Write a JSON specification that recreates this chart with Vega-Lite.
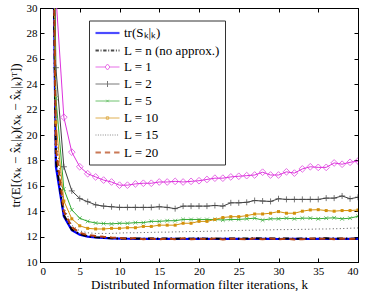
{
  "$schema": "https://vega.github.io/schema/vega-lite/v6.json",
  "width": 318,
  "height": 254,
  "autosize": {"type": "none"},
  "padding": {"left": 40, "top": 8, "right": 10, "bottom": 29},
  "config": {
    "font": "Liberation Serif",
    "view": {"stroke": "black", "strokeWidth": 1},
    "axis": {
      "domainColor": "black", "tickColor": "black", "labelColor": "black", "titleColor": "black",
      "labelFontSize": 11, "titleFontSize": 13, "titleFontWeight": "normal",
      "grid": false, "domainWidth": 1, "tickWidth": 1
    }
  },
  "data": {"values": [
    {"k":1,"S":70,"Ln":70,"L1":80,"L2":70,"L5":70,"L10":70,"L15":70,"L20":70},
    {"k":2,"S":17.5,"Ln":18,"L1":31,"L2":25.3,"L5":22.9,"L10":21,"L15":20,"L20":19},
    {"k":3,"S":13.6,"Ln":13.7,"L1":21.4,"L2":17.5,"L5":15.75,"L10":14.8,"L15":14.3,"L20":14.0},
    {"k":4,"S":12.5,"Ln":12.55,"L1":18.65,"L2":15.6,"L5":14.1,"L10":13.4,"L15":12.9,"L20":12.75},
    {"k":5,"S":12.15,"Ln":12.2,"L1":17.5,"L2":15.0,"L5":13.45,"L10":12.85,"L15":12.45,"L20":12.3},
    {"k":6,"S":12.0,"Ln":12.03,"L1":16.95,"L2":14.75,"L5":13.2,"L10":12.65,"L15":12.3,"L20":12.12},
    {"k":7,"S":11.93,"Ln":11.95,"L1":16.7,"L2":14.5,"L5":13.07,"L10":12.6,"L15":12.25,"L20":12.05},
    {"k":8,"S":11.9,"Ln":11.9,"L1":16.45,"L2":14.4,"L5":13.03,"L10":12.6,"L15":12.25,"L20":11.98},
    {"k":9,"S":11.86,"Ln":11.87,"L1":16.3,"L2":14.35,"L5":13.0,"L10":12.65,"L15":12.25,"L20":11.93},
    {"k":10,"S":11.84,"Ln":11.85,"L1":16.05,"L2":14.3,"L5":13.05,"L10":12.65,"L15":12.28,"L20":11.9},
    {"k":11,"S":11.83,"Ln":11.84,"L1":16.05,"L2":14.3,"L5":13.05,"L10":12.7,"L15":12.3,"L20":11.84},
    {"k":12,"S":11.82,"Ln":11.86,"L1":16.15,"L2":14.3,"L5":13.1,"L10":12.7,"L15":12.3,"L20":11.88},
    {"k":13,"S":11.82,"Ln":11.83,"L1":16.2,"L2":14.3,"L5":13.1,"L10":12.8,"L15":12.32,"L20":11.8},
    {"k":14,"S":11.82,"Ln":11.85,"L1":16.2,"L2":14.3,"L5":13.2,"L10":12.8,"L15":12.33,"L20":11.85},
    {"k":15,"S":11.81,"Ln":11.84,"L1":16.3,"L2":14.35,"L5":13.2,"L10":12.9,"L15":12.35,"L20":11.79},
    {"k":16,"S":11.82,"Ln":11.86,"L1":16.3,"L2":14.3,"L5":13.25,"L10":12.9,"L15":12.35,"L20":11.84},
    {"k":17,"S":11.82,"Ln":11.83,"L1":16.35,"L2":14.2,"L5":13.25,"L10":12.9,"L15":12.37,"L20":11.8},
    {"k":18,"S":11.81,"Ln":11.85,"L1":16.3,"L2":14.4,"L5":13.35,"L10":13.05,"L15":12.38,"L20":11.86},
    {"k":19,"S":11.82,"Ln":11.84,"L1":16.35,"L2":14.4,"L5":13.35,"L10":13.05,"L15":12.4,"L20":11.79},
    {"k":20,"S":11.82,"Ln":11.87,"L1":16.4,"L2":14.4,"L5":13.35,"L10":13.2,"L15":12.4,"L20":11.83},
    {"k":21,"S":11.82,"Ln":11.84,"L1":16.5,"L2":14.4,"L5":13.35,"L10":13.2,"L15":12.42,"L20":11.8},
    {"k":22,"S":11.81,"Ln":11.85,"L1":16.6,"L2":14.45,"L5":13.35,"L10":13.35,"L15":12.43,"L20":11.85},
    {"k":23,"S":11.82,"Ln":11.83,"L1":16.6,"L2":14.4,"L5":13.3,"L10":13.5,"L15":12.45,"L20":11.78},
    {"k":24,"S":11.82,"Ln":11.86,"L1":16.7,"L2":14.66,"L5":13.35,"L10":13.57,"L15":12.47,"L20":11.84},
    {"k":25,"S":11.82,"Ln":11.84,"L1":16.75,"L2":14.66,"L5":13.35,"L10":13.57,"L15":12.48,"L20":11.82},
    {"k":26,"S":11.81,"Ln":11.85,"L1":16.8,"L2":14.7,"L5":13.4,"L10":13.65,"L15":12.5,"L20":11.78},
    {"k":27,"S":11.82,"Ln":11.87,"L1":16.85,"L2":14.84,"L5":13.45,"L10":13.78,"L15":12.5,"L20":11.85},
    {"k":28,"S":11.82,"Ln":11.84,"L1":17.07,"L2":14.8,"L5":13.3,"L10":13.78,"L15":12.52,"L20":11.8},
    {"k":29,"S":11.82,"Ln":11.86,"L1":16.85,"L2":14.77,"L5":13.4,"L10":13.84,"L15":12.53,"L20":11.85},
    {"k":30,"S":11.81,"Ln":11.84,"L1":16.85,"L2":14.98,"L5":13.4,"L10":13.97,"L15":12.55,"L20":11.79},
    {"k":31,"S":11.82,"Ln":11.85,"L1":17.1,"L2":14.93,"L5":13.45,"L10":13.84,"L15":12.55,"L20":11.84},
    {"k":32,"S":11.82,"Ln":11.83,"L1":17.0,"L2":14.93,"L5":13.4,"L10":13.84,"L15":12.56,"L20":11.78},
    {"k":33,"S":11.82,"Ln":11.86,"L1":17.33,"L2":14.93,"L5":13.45,"L10":14.0,"L15":12.57,"L20":11.8},
    {"k":34,"S":11.81,"Ln":11.84,"L1":17.5,"L2":14.93,"L5":13.45,"L10":14.1,"L15":12.58,"L20":11.85},
    {"k":35,"S":11.82,"Ln":11.85,"L1":17.45,"L2":14.93,"L5":13.4,"L10":14.12,"L15":12.6,"L20":11.82},
    {"k":36,"S":11.82,"Ln":11.87,"L1":17.45,"L2":15.03,"L5":13.45,"L10":14.05,"L15":12.6,"L20":11.84},
    {"k":37,"S":11.82,"Ln":11.84,"L1":17.8,"L2":15.03,"L5":13.48,"L10":14.0,"L15":12.62,"L20":11.8},
    {"k":38,"S":11.81,"Ln":11.86,"L1":17.7,"L2":15.2,"L5":13.4,"L10":14.05,"L15":12.63,"L20":11.85},
    {"k":39,"S":11.82,"Ln":11.84,"L1":17.85,"L2":14.98,"L5":13.45,"L10":14.05,"L15":12.66,"L20":11.82},
    {"k":40,"S":11.82,"Ln":11.85,"L1":17.95,"L2":15.1,"L5":13.6,"L10":14.1,"L15":12.68,"L20":11.83}
  ]},
  "transform": [{"fold": ["S","Ln","L1","L2","L5","L10","L15","L20"], "as": ["series","v"]}],
  "layer": [
    {
      "transform": [{"filter": "datum.series == 'S'"}],
      "mark": {"type": "line", "clip": true, "color": "#0000ff", "strokeWidth": 2.2},
      "encoding": {
        "x": {"field": "k", "type": "quantitative", "scale": {"domain": [0, 40], "nice": false},
              "axis": {"orient": "bottom", "values": [0,5,10,15,20,25,30,35,40], "tickSize": -4, "labelPadding": 7, "title": "Distributed Information filter iterations, k", "titlePadding": 2}},
        "y": {"field": "v", "type": "quantitative", "scale": {"domain": [10, 30], "nice": false, "zero": false},
              "axis": {"orient": "left", "values": [10,12,14,16,18,20,22,24,26,28,30], "tickSize": -4, "labelPadding": 7, "title": "tr(E[(xₖ − x̂ₖ|ₖ)(xₖ − x̂ₖ|ₖ)ᵀ])", "titlePadding": 4}}
      }
    },
    {
      "transform": [{"filter": "datum.series == 'Ln'"}],
      "mark": {"type": "line", "clip": true, "color": "#000000", "strokeWidth": 2, "strokeDash": [6, 3, 1.5, 3]},
      "encoding": {
        "x": {"field": "k", "type": "quantitative", "scale": {"domain": [0, 40], "nice": false},
              "axis": {"orient": "top", "labels": false, "title": null, "tickSize": -4, "values": [0,5,10,15,20,25,30,35,40]}},
        "y": {"field": "v", "type": "quantitative", "scale": {"domain": [10, 30], "nice": false, "zero": false},
              "axis": {"orient": "right", "labels": false, "title": null, "tickSize": -4, "values": [10,12,14,16,18,20,22,24,26,28,30]}}
      }
    },
    {
      "transform": [{"filter": "datum.series == 'L1'"}],
      "mark": {"type": "line", "clip": true, "color": "#dd33dd", "strokeWidth": 1},
      "encoding": {
        "x": {"field": "k", "type": "quantitative", "scale": {"domain": [0, 40], "nice": false}, "axis": null},
        "y": {"field": "v", "type": "quantitative", "scale": {"domain": [10, 30], "nice": false, "zero": false}, "axis": null}
      }
    },
    {
      "transform": [{"filter": "datum.series == 'L2'"}],
      "mark": {"type": "line", "clip": true, "color": "#404040", "strokeWidth": 1},
      "encoding": {
        "x": {"field": "k", "type": "quantitative", "scale": {"domain": [0, 40], "nice": false}, "axis": null},
        "y": {"field": "v", "type": "quantitative", "scale": {"domain": [10, 30], "nice": false, "zero": false}, "axis": null}
      }
    },
    {
      "transform": [{"filter": "datum.series == 'L5'"}],
      "mark": {"type": "line", "clip": true, "color": "#33aa33", "strokeWidth": 1},
      "encoding": {
        "x": {"field": "k", "type": "quantitative", "scale": {"domain": [0, 40], "nice": false}, "axis": null},
        "y": {"field": "v", "type": "quantitative", "scale": {"domain": [10, 30], "nice": false, "zero": false}, "axis": null}
      }
    },
    {
      "transform": [{"filter": "datum.series == 'L10'"}],
      "mark": {"type": "line", "clip": true, "color": "#d4900a", "strokeWidth": 1},
      "encoding": {
        "x": {"field": "k", "type": "quantitative", "scale": {"domain": [0, 40], "nice": false}, "axis": null},
        "y": {"field": "v", "type": "quantitative", "scale": {"domain": [10, 30], "nice": false, "zero": false}, "axis": null}
      }
    },
    {
      "transform": [{"filter": "datum.series == 'L15'"}],
      "mark": {"type": "line", "clip": true, "color": "#555555", "strokeWidth": 1, "strokeDash": [1, 2.5]},
      "encoding": {
        "x": {"field": "k", "type": "quantitative", "scale": {"domain": [0, 40], "nice": false}, "axis": null},
        "y": {"field": "v", "type": "quantitative", "scale": {"domain": [10, 30], "nice": false, "zero": false}, "axis": null}
      }
    },
    {
      "transform": [{"filter": "datum.series == 'L20'"}],
      "mark": {"type": "line", "clip": true, "color": "#b5400f", "strokeWidth": 2, "strokeDash": [6, 4]},
      "encoding": {
        "x": {"field": "k", "type": "quantitative", "scale": {"domain": [0, 40], "nice": false}, "axis": null},
        "y": {"field": "v", "type": "quantitative", "scale": {"domain": [10, 30], "nice": false, "zero": false}, "axis": null}
      }
    },
    {
      "transform": [{"filter": "datum.series == 'L1'"}],
      "mark": {"type": "point", "shape": "diamond", "filled": false, "size": 45, "color": "#dd33dd", "strokeWidth": 1, "clip": true},
      "encoding": {
        "x": {"field": "k", "type": "quantitative", "scale": {"domain": [0, 40], "nice": false}, "axis": null},
        "y": {"field": "v", "type": "quantitative", "scale": {"domain": [10, 30], "nice": false, "zero": false}, "axis": null}
      }
    },
    {
      "transform": [{"filter": "datum.series == 'L2'"}],
      "mark": {"type": "point", "shape": "M-1,0L1,0M0,-1L0,1", "filled": false, "size": 36, "color": "#404040", "strokeWidth": 1, "clip": true},
      "encoding": {
        "x": {"field": "k", "type": "quantitative", "scale": {"domain": [0, 40], "nice": false}, "axis": null},
        "y": {"field": "v", "type": "quantitative", "scale": {"domain": [10, 30], "nice": false, "zero": false}, "axis": null}
      }
    },
    {
      "transform": [{"filter": "datum.series == 'L5'"}],
      "mark": {"type": "point", "shape": "M-1,-1L1,1M-1,1L1,-1", "filled": false, "size": 14, "color": "#33aa33", "strokeWidth": 1, "clip": true},
      "encoding": {
        "x": {"field": "k", "type": "quantitative", "scale": {"domain": [0, 40], "nice": false}, "axis": null},
        "y": {"field": "v", "type": "quantitative", "scale": {"domain": [10, 30], "nice": false, "zero": false}, "axis": null}
      }
    },
    {
      "transform": [{"filter": "datum.series == 'L10'"}],
      "mark": {"type": "point", "shape": "square", "filled": true, "size": 9, "color": "#d4900a", "opacity": 1, "clip": true},
      "encoding": {
        "x": {"field": "k", "type": "quantitative", "scale": {"domain": [0, 40], "nice": false}, "axis": null},
        "y": {"field": "v", "type": "quantitative", "scale": {"domain": [10, 30], "nice": false, "zero": false}, "axis": null}
      }
    },
    {
      "transform": [{"filter": "datum.k < 0"}],
      "mark": {"type": "point", "filled": false, "size": 144},
      "encoding": {
        "color": {"field": "series", "type": "nominal",
                  "scale": {"domain": ["S","Ln","L1","L2","L5","L10","L15","L20"],
                            "range": ["#0000ff","#000000","#dd33dd","#404040","#33aa33","#d4900a","#555555","#b5400f"]},
                  "legend": {"orient": "none", "legendX": 49, "legendY": 12.5, "title": null, "padding": 5,
                             "strokeColor": "#333333", "fillColor": "white", "symbolSize": 144,
                             "labelFont": "Liberation Serif", "labelFontSize": 13, "labelColor": "black", "rowPadding": 3, "labelOffset": 15, "labelLimit": 300,
                             "labelExpr": "{'S':'tr(Sₖ|ₖ)','Ln':'L = n (no approx.)','L1':'L = 1','L2':'L = 2','L5':'L = 5','L10':'L = 10','L15':'L = 15','L20':'L = 20'}[datum.label]"}},
        "shape": {"field": "series", "type": "nominal",
                  "scale": {"domain": ["S","Ln","L1","L2","L5","L10","L15","L20"],
                            "range": [
                              "M-1,0L3,0",
                              "M-1,0L-0.44,0M-0.16,0L0,0M0.28,0L0.84,0M1.12,0L1.28,0M1.56,0L2.12,0M2.4,0L2.56,0M2.84,0L3,0",
                              "M-1,0L0.6,0M1.4,0L3,0M1,-0.5L1.4,0L1,0.5L0.6,0Z",
                              "M-1,0L3,0M1,-0.5L1,0.5",
                              "M-1,0L3,0M0.8,-0.2L1.2,0.2M0.8,0.2L1.2,-0.2",
                              "M-1,0L3,0M0.8,-0.2L1.2,-0.2L1.2,0.2L0.8,0.2Z",
                              "M-1,0L-0.84,0M-0.6,0L-0.44,0M-0.2,0L-0.04,0M0.2,0L0.36,0M0.6,0L0.76,0M1,0L1.16,0M1.4,0L1.56,0M1.8,0L1.96,0M2.2,0L2.36,0M2.6,0L2.76,0",
                              "M-1,0L-0.1,0M0.56,0L1.44,0M2.1,0L3,0"
                            ]}},
        "strokeWidth": {"field": "series", "type": "nominal",
                        "scale": {"type": "ordinal", "domain": ["S","Ln","L1","L2","L5","L10","L15","L20"],
                                  "range": [2.2,2,1,1,1,1,1,2]}}
      }
    }
  ],
  "resolve": {"scale": {"x": "independent", "y": "independent"}, "axis": {"x": "independent", "y": "independent"}}
}
